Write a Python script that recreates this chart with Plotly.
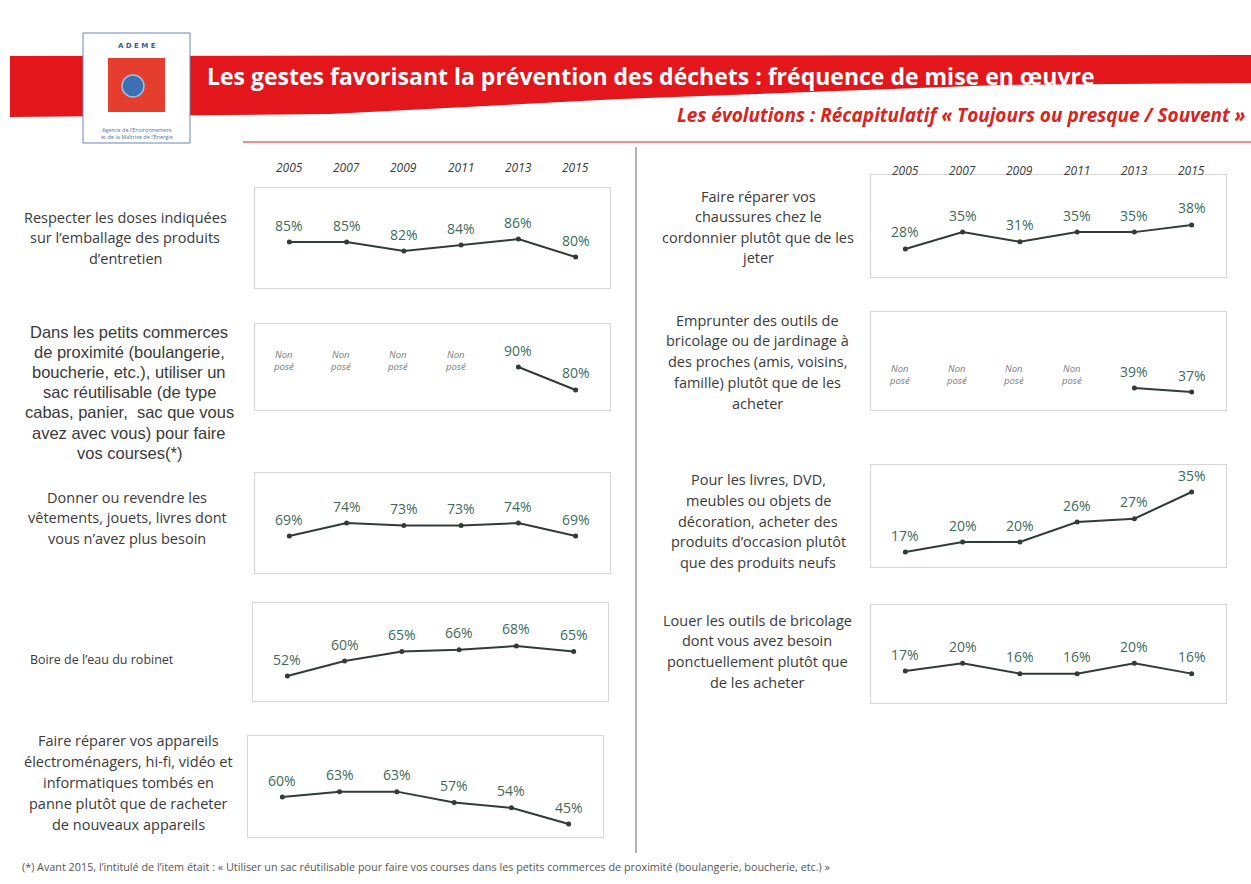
import plotly.graph_objects as go

W, H = 1251, 884

# ---- data -------------------------------------------------------------
years = [2005, 2007, 2009, 2011, 2013, 2015]
year_labels = ["2005", "2007", "2009", "2011", "2013", "2015"]

doses = [85, 85, 82, 84, 86, 80]
sac = [None, None, None, None, 90, 80]
donner = [69, 74, 73, 73, 74, 69]
robinet = [52, 60, 65, 66, 68, 65]
appareils = [60, 63, 63, 57, 54, 45]
chaussures = [28, 35, 31, 35, 35, 38]
emprunter = [None, None, None, None, 39, 37]
occasion = [17, 20, 20, 26, 27, 35]
louer = [17, 20, 16, 16, 20, 16]

txt_doses = ["Respecter les doses indiquées", "sur l’emballage des produits", "d’entretien"]
txt_sac = ["Dans les petits commerces", "de proximité (boulangerie,", "boucherie, etc.), utiliser un",
           "sac réutilisable (de type", "cabas, panier,  sac que vous", "avez avec vous) pour faire",
           "vos courses(*)"]
txt_donner = ["Donner ou revendre les", "vêtements, jouets, livres dont", "vous n’avez plus besoin"]
txt_robinet = ["Boire de l’eau du robinet"]
txt_appareils = ["Faire réparer vos appareils", "électroménagers, hi-fi, vidéo et",
                 "informatiques tombés en", "panne plutôt que de racheter", "de nouveaux appareils"]
txt_chaussures = ["Faire réparer vos", "chaussures chez le", "cordonnier plutôt que de les", "jeter"]
txt_emprunter = ["Emprunter des outils de", "bricolage ou de jardinage à", "des proches (amis, voisins,",
                 "famille) plutôt que de les", "acheter"]
txt_occasion = ["Pour les livres, DVD,", "meubles ou objets de", "décoration, acheter des",
                "produits d’occasion plutôt", "que des produits neufs"]
txt_louer = ["Louer les outils de bricolage", "dont vous avez besoin", "ponctuellement plutôt que",
             "de les acheter"]

not_asked = "Non<br>posé"

title = "Les gestes favorisant la prévention des déchets : fréquence de mise en œuvre"
subtitle = "Les évolutions : Récapitulatif « Toujours ou presque / Souvent »"
footnote = ("(*) Avant 2015, l’intitulé de l’item était : « Utiliser un sac réutilisable pour faire vos "
            "courses dans les petits commerces de proximité (boulangerie, boucherie, etc.) »")

# ---- layout of the small panels (pixel boxes, y ranges, text blocks) --
# box = (left, top, right, bottom) in px; text = (center x, first line y, line step, font, size)
SANS = "Open Sans"
ARIAL = "Liberation Sans"
panels = [
    dict(v=doses, box=(255, 188, 610, 288), yr=(69.7, 103.0), txt=txt_doses, t=(125, 217, 20.5, SANS, 14.5)),
    dict(v=sac, box=(255, 324, 610, 410), yr=(71.3, 108.7), txt=txt_sac, t=(129, 332, 20.1, ARIAL, 16.5), na=0.58),
    dict(v=donner, box=(255, 473, 610, 573), yr=(54.8, 93.2), txt=txt_donner, t=(127, 497, 20.5, SANS, 14.5)),
    dict(v=robinet, box=(253, 603, 608, 701), yr=(38.7, 90.9), txt=txt_robinet, t=(102, 659, 20.5, SANS, 12.5)),
    dict(v=appareils, box=(248, 736, 603, 837), yr=(37.8, 93.9), txt=txt_appareils, t=(128, 740, 21, SANS, 14.5)),
    dict(v=chaussures, box=(871, 175, 1226, 277), yr=(16.3, 58.8), txt=txt_chaussures, t=(758, 196, 20.6, SANS, 14.5)),
    dict(v=emprunter, box=(871, 312, 1226, 410), yr=(28.0, 77.0), txt=txt_emprunter, t=(757, 320, 20.8, SANS, 14.5), na=0.36),
    dict(v=occasion, box=(871, 465, 1226, 567), yr=(12.5, 43.1), txt=txt_occasion, t=(758, 480, 20.5, SANS, 14.5)),
    dict(v=louer, box=(871, 605, 1226, 703), yr=(4.7, 42.4), txt=txt_louer, t=(757, 620, 20.7, SANS, 14.5)),
]

XPAD = 1.2
LINE_COL = "#2f3d36"
VAL_COL = "#3c6b5a"
TXT_COL = "#3a3a3a"


def fx(px):
    return px / W


def fy(py):
    return 1 - py / H


fig = go.Figure()
layout = {}
annotations = []
shapes = []

for i, p in enumerate(panels, start=1):
    xa = "x" if i == 1 else f"x{i}"
    ya = "y" if i == 1 else f"y{i}"
    L, T, R, B = p["box"]
    axis_style = dict(showline=True, mirror=True, linecolor="#d6d6d6", linewidth=1,
                      showgrid=False, zeroline=False, showticklabels=False, ticks="",
                      fixedrange=True)
    layout["xaxis" if i == 1 else f"xaxis{i}"] = dict(
        domain=[fx(L), fx(R)], range=[years[0] - XPAD, years[-1] + XPAD],
        anchor=ya, **axis_style)
    layout["yaxis" if i == 1 else f"yaxis{i}"] = dict(
        domain=[fy(B), fy(T)], range=list(p["yr"]), anchor=xa, **axis_style)

    fig.add_trace(go.Scatter(
        x=years, y=p["v"], xaxis=xa, yaxis=ya, mode="lines+markers",
        line=dict(color=LINE_COL, width=2), marker=dict(color=LINE_COL, size=5),
        connectgaps=False, showlegend=False, hoverinfo="skip"))

    # value labels above each point
    for yr_, v in zip(years, p["v"]):
        if v is None:
            continue
        annotations.append(dict(x=yr_, y=v, xref=xa, yref=ya, text=f"{v}%", showarrow=False,
                                xanchor="center", yshift=17,
                                font=dict(family=SANS, size=14, color=VAL_COL)))

    # "Non posé" markers for the years where the question was not asked
    if "na" in p:
        for yr_, v in zip(years, p["v"]):
            if v is None:
                annotations.append(dict(x=yr_, y=p["na"], xref=xa, yref=f"{ya} domain",
                                        text=f"<i>{not_asked}</i>", showarrow=False, xshift=-6,
                                        xanchor="center",
                                        font=dict(family=SANS, size=9.5, color="#7a7a7a")))

    # item wording, one line per annotation
    cx, y0, step, fam, size = p["t"]
    for k, line in enumerate(p["txt"]):
        annotations.append(dict(x=fx(cx), y=fy(y0 + k * step), xref="paper", yref="paper",
                                text=line, showarrow=False, xanchor="center", yanchor="middle",
                                font=dict(family=fam, size=size, color=TXT_COL)))

# year headers over each column
for xa, ypx in (("x", 157), ("x6", 160)):
    for yr_, lab in zip(years, year_labels):
        annotations.append(dict(x=yr_, y=fy(ypx), xref=xa, yref="paper", text=f"<i>{lab}</i>",
                                xanchor="center", showarrow=False,
                                font=dict(family=SANS, size=12, color="#3a3a3a")))

# red title band (slanted lower edge)
band = [(10, 56), (1251, 55), (1251, 83), (1000, 85), (620, 99), (330, 114), (10, 117)]
path = "M " + " L ".join(f"{fx(a):.5f},{fy(b):.5f}" for a, b in band) + " Z"
shapes.append(dict(type="path", path=path, xref="paper", yref="paper",
                   fillcolor="#e2161b", line=dict(width=0), layer="below"))

# thin rule under the subtitle and column separator
shapes.append(dict(type="line", x0=fx(243), x1=fx(1251), y0=fy(142), y1=fy(142), xref="paper",
                   yref="paper", line=dict(color="#e36a6a", width=1.5)))
shapes.append(dict(type="line", x0=fx(636), x1=fx(636), y0=fy(147), y1=fy(853), xref="paper",
                   yref="paper", line=dict(color="#9a9a9a", width=1.5)))

# ADEME logo block
shapes.append(dict(type="rect", x0=fx(83), x1=fx(190), y0=fy(143), y1=fy(33), xref="paper",
                   yref="paper", fillcolor="white", line=dict(color="#6d86b8", width=1)))
shapes.append(dict(type="rect", x0=fx(108), x1=fx(165), y0=fy(112), y1=fy(58), xref="paper",
                   yref="paper", fillcolor="#e53d2e", line=dict(width=0)))
shapes.append(dict(type="circle", x0=fx(122), x1=fx(144), y0=fy(97), y1=fy(75), xref="paper",
                   yref="paper", fillcolor="#3c6fb4", line=dict(color="#9ec1e6", width=1.5)))
annotations.append(dict(x=fx(137), y=fy(46), xref="paper", yref="paper", text="<b>A D E M E</b>",
                        xanchor="center", yanchor="middle", showarrow=False,
                        font=dict(family="DejaVu Sans", size=7, color="#2f5fa8")))
annotations.append(dict(x=fx(137), y=fy(124), xref="paper", yref="paper", xanchor="center",
                        align="center",
                        text="Agence de l’Environnement<br>et de la Maîtrise de l’Énergie",
                        showarrow=False, font=dict(family=SANS, size=5.5, color="#5a6f9a")))

# titles and footnote
annotations.append(dict(x=fx(205), y=fy(76), xref="paper", yref="paper", text=f"<b>{title}</b>",
                        xanchor="left", yanchor="middle", showarrow=False,
                        font=dict(family=SANS, size=23, color="white")))
annotations.append(dict(x=fx(1248), y=fy(115), xref="paper", yref="paper",
                        text=f"<b><i>{subtitle}</i></b>", xanchor="right", yanchor="middle",
                        showarrow=False, font=dict(family=SANS, size=19, color="#d9251d")))
annotations.append(dict(x=fx(20), y=fy(866), xref="paper", yref="paper", text=footnote,
                        xanchor="left", yanchor="middle", showarrow=False,
                        font=dict(family=SANS, size=10.8, color="#555555")))

fig.update_layout(
    width=W, height=H, margin=dict(l=0, r=0, t=0, b=0),
    paper_bgcolor="white", plot_bgcolor="white", showlegend=False,
    annotations=annotations, shapes=shapes, **layout)

fig.write_html("out.html", config={"displayModeBar": False})
